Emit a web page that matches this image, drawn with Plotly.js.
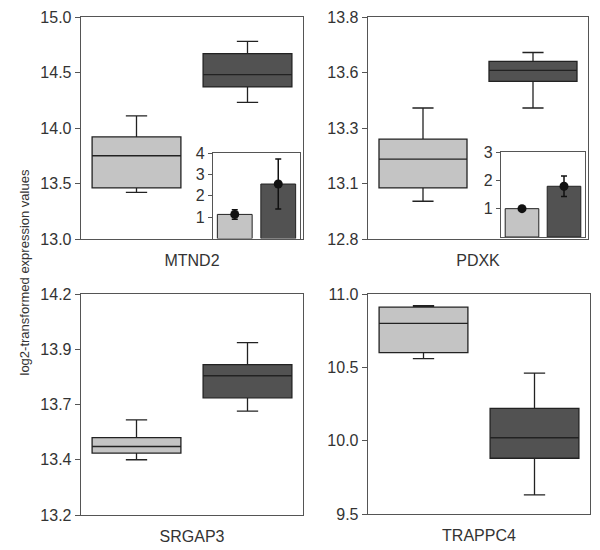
<!DOCTYPE html>
<html>
<head>
<meta charset="utf-8">
<script src="https://cdn.plot.ly/plotly-3.0.1.min.js"></script>
<style>
  body { margin: 0; background: #fff; }
  #chart { width: 600px; height: 550px; }
</style>
</head>
<body>
<div id="chart"></div>
<script>
// genes, one panel each
const genes = ["MTND2", "PDXK", "SRGAP3", "TRAPPC4"];

// box stats, light (first) group
const lightLower = [13.42, 12.97, 13.45, 10.56];
const lightQ1 = [13.46, 13.03, 13.48, 10.60];
const lightMedian = [13.75, 13.16, 13.51, 10.80];
const lightQ3 = [13.92, 13.25, 13.55, 10.91];
const lightUpper = [14.11, 13.39, 13.63, 10.92];

// box stats, dark (second) group
const darkLower = [14.23, 13.39, 13.67, 9.63];
const darkQ1 = [14.37, 13.51, 13.73, 9.88];
const darkMedian = [14.48, 13.56, 13.83, 10.02];
const darkQ3 = [14.67, 13.60, 13.88, 10.22];
const darkUpper = [14.78, 13.64, 13.98, 10.46];

// y axis ticks per panel
const tickVals = [
    [13.0, 13.5, 14.0, 14.5, 15.0],
    [12.8, 13.05, 13.3, 13.55, 13.8],
    [13.2, 13.45, 13.7, 13.95, 14.2],
    [9.5, 10.0, 10.5, 11.0]
];
const tickText = [
    ["13.0", "13.5", "14.0", "14.5", "15.0"],
    ["12.8", "13.1", "13.3", "13.6", "13.8"],
    ["13.2", "13.4", "13.7", "13.9", "14.2"],
    ["9.5", "10.0", "10.5", "11.0"]
];

// inset bar charts (MTND2 and PDXK)
const insetLight = [1.13, 1.0];
const insetLightErr = [0.22, 0.04];
const insetDark = [2.55, 1.79];
const insetDarkErr = [1.17, 0.36];
const insetTicks = [[1, 2, 3, 4], [1, 2, 3]];

const LIGHT = "#c4c4c4";
const DARK = "#525252";
const EDGE = "#222";
const FONT = "Liberation Sans, Arial, sans-serif";

const data = [];
genes.forEach((g, i) => {
    const ax = i === 0 ? "" : String(i + 1);
    const common = {
        type: "box", xaxis: "x" + ax, yaxis: "y" + ax,
        width: 0.8, whiskerwidth: 0.24, boxpoints: false,
        line: { color: EDGE, width: 1.3 }, hoverinfo: "skip", showlegend: false
    };
    data.push(Object.assign({}, common, {
        x: [0], q1: [lightQ1[i]], median: [lightMedian[i]], q3: [lightQ3[i]],
        lowerfence: [lightLower[i]], upperfence: [lightUpper[i]], fillcolor: LIGHT
    }));
    data.push(Object.assign({}, common, {
        x: [1], q1: [darkQ1[i]], median: [darkMedian[i]], q3: [darkQ3[i]],
        lowerfence: [darkLower[i]], upperfence: [darkUpper[i]], fillcolor: DARK
    }));
});

insetLight.forEach((v, k) => {
    const ax = String(k + 5);
    data.push({
        type: "bar", x: [0, 1], y: [insetLight[k], insetDark[k]], width: 0.8,
        xaxis: "x" + ax, yaxis: "y" + ax,
        marker: { color: [LIGHT, DARK], line: { color: EDGE, width: 1 } },
        hoverinfo: "skip", showlegend: false
    });
    data.push({
        type: "scatter", mode: "markers", x: [0, 1], y: [insetLight[k], insetDark[k]],
        xaxis: "x" + ax, yaxis: "y" + ax,
        marker: { color: "#111", size: 9 },
        error_y: { type: "data", array: [insetLightErr[k], insetDarkErr[k]], color: "#111", thickness: 1.5, width: 3 },
        hoverinfo: "skip", showlegend: false
    });
});

const px = (a, b) => [a / 600, b / 600];
const py = (top, bottom) => [1 - bottom / 550, 1 - top / 550];

const xDomains = [px(81, 303), px(368, 588), px(81, 303), px(368, 590)];
const yDomains = [py(17, 239), py(17, 239), py(294, 515), py(294, 514)];
const yRanges = [[13, 15], [12.8, 13.8], [13.2, 14.2], [9.5, 11]];

const layout = {
    width: 600, height: 550,
    margin: { l: 0, r: 0, t: 0, b: 0 },
    paper_bgcolor: "#fff", plot_bgcolor: "rgba(0,0,0,0)",
    font: { family: FONT, color: "#333", size: 16 },
    annotations: [{
        text: "log2-transformed expression values", textangle: -90,
        xref: "paper", yref: "paper", x: 14 / 600, y: 1 - 273 / 550,
        showarrow: false, font: { size: 13, color: "#333" }
    }]
};

genes.forEach((g, i) => {
    const ax = i === 0 ? "" : String(i + 1);
    layout["xaxis" + ax] = {
        domain: xDomains[i], range: [-0.5, 1.5], anchor: "y" + ax,
        showline: true, mirror: true, linecolor: "#555", linewidth: 1.3,
        showgrid: false, zeroline: false, showticklabels: false, ticks: "",
        title: { text: g, standoff: 15, font: { size: 16, color: "#333" } }
    };
    layout["yaxis" + ax] = {
        domain: yDomains[i], range: yRanges[i], anchor: "x" + ax,
        showline: true, mirror: true, linecolor: "#555", linewidth: 1.3,
        showgrid: false, zeroline: false,
        tickmode: "array", tickvals: tickVals[i], ticktext: tickText[i],
        ticks: "outside", ticklen: 5, tickcolor: "#555",
        tickfont: { size: 16, color: "#333" }
    };
});

const insetX = [px(213, 300), px(501, 585)];
const insetY = [py(153, 238.6), py(152, 237)];
const insetRanges = [[0, 4], [0, 3]];
insetX.forEach((d, k) => {
    const ax = String(k + 5);
    layout["xaxis" + ax] = {
        domain: d, range: [-0.5, 1.5], anchor: "y" + ax,
        showline: true, mirror: true, linecolor: "#555", linewidth: 1.2,
        showgrid: false, zeroline: false, showticklabels: false, ticks: ""
    };
    layout["yaxis" + ax] = {
        domain: insetY[k], range: insetRanges[k], anchor: "x" + ax,
        showline: true, mirror: true, linecolor: "#555", linewidth: 1.2,
        showgrid: false, zeroline: false,
        tickmode: "array", tickvals: insetTicks[k],
        ticks: "outside", ticklen: 4, tickcolor: "#555",
        tickfont: { size: 16, color: "#333" }
    };
});

Plotly.newPlot("chart", data, layout, { staticPlot: true });
</script>
</body>
</html>
